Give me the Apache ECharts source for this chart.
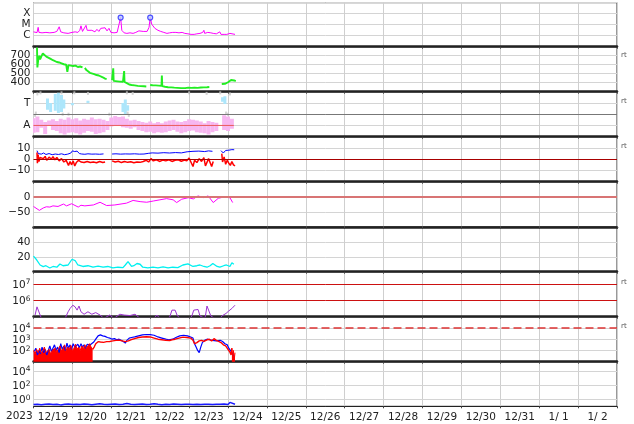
<!DOCTYPE html>
<html><head><meta charset="utf-8">
<script src="https://cdn.jsdelivr.net/npm/echarts@6/dist/echarts.min.js"></script>
<style>html,body{margin:0;padding:0;background:#fff}#c{width:634px;height:424px}</style>
</head><body><div id="c"></div>
<script>
// ---------- labels ----------
const dayLabels = ['12/19','12/20','12/21','12/22','12/23','12/24','12/25','12/26','12/27','12/28','12/29','12/30','12/31','1/ 1','1/ 2'];
const yearLabel = '2023';
const xrayClassLabels = {'-4':'X','-5':'M','-6':'C'};
const sideLabel = 'rt';

// ---------- panel 1: X-ray flux (log10 W/m2), day offsets ----------
const xray = [[0,-5.65],[0.04,-5.74],[0.09,-5.72],[0.12,-5.24],[0.14,-5.70],[0.22,-5.74],[0.32,-5.70],[0.42,-5.74],[0.53,-5.70],[0.6,-5.61],[0.66,-5.19],[0.7,-5.65],[0.78,-5.74],[0.89,-5.79],[0.99,-5.70],[1.07,-5.65],[1.14,-5.70],[1.19,-5.51],[1.22,-5.10],[1.26,-5.61],[1.35,-5.06],[1.38,-5.51],[1.43,-5.61],[1.5,-5.51],[1.58,-5.65],[1.63,-5.42],[1.68,-5.61],[1.73,-5.33],[1.78,-5.51],[1.84,-5.28],[1.89,-5.56],[1.94,-5.33],[1.99,-5.70],[2.07,-5.74],[2.15,-5.70],[2.2,-5.61],[2.24,-4.35],[2.27,-5.51],[2.33,-5.74],[2.4,-5.79],[2.48,-5.74],[2.56,-5.79],[2.63,-5.70],[2.71,-5.56],[2.76,-5.70],[2.82,-5.61],[2.87,-5.51],[2.92,-5.61],[2.97,-5.24],[3.00,-4.35],[3.04,-4.96],[3.12,-5.33],[3.2,-5.51],[3.27,-5.61],[3.35,-5.70],[3.43,-5.79],[3.5,-5.74],[3.58,-5.70],[3.66,-5.70],[3.74,-5.74],[3.82,-5.70],[3.89,-5.79],[3.97,-5.83],[4.05,-5.88],[4.13,-5.88],[4.2,-5.83],[4.28,-5.79],[4.35,-5.70],[4.38,-5.51],[4.4,-5.79],[4.48,-5.70],[4.52,-5.60],[4.56,-5.74],[4.62,-5.79],[4.66,-5.65],[4.7,-5.83],[4.75,-5.88],[4.79,-5.65],[4.82,-5.88],[4.9,-5.88],[4.97,-5.88],[5.05,-5.79],[5.1,-5.88],[5.18,-5.88]];
const flares = [[2.24,-4.35],[3.0,-4.35]];

// ---------- panel 2: solar wind speed (km/s) ----------
const speed = [[0.09,790],[0.10,570],[0.12,650],[0.15,700],[0.17,660],[0.2,690],[0.24,725],[0.28,705],[0.33,690],[0.38,680],[0.44,665],[0.5,650],[0.55,640],[0.6,630],[0.66,625],[0.72,615],[0.78,605],[0.84,600],[0.87,520],[0.9,595],[0.96,590],[1.02,585],[1.08,590],[1.14,575],[1.2,580],[1.26,570],[1.28,null],[1.32,565],[1.36,540],[1.4,525],[1.45,510],[1.5,500],[1.56,495],[1.62,485],[1.68,480],[1.73,470],[1.78,460],[1.84,445],[1.88,440],[1.93,null],[2.02,430],[2.05,560],[2.06,420],[2.1,415],[2.16,415],[2.22,412],[2.3,410],[2.33,530],[2.34,408],[2.4,395],[2.46,380],[2.52,375],[2.6,370],[2.68,365],[2.76,362],[2.84,360],[2.9,358],[2.95,null],[3.0,375],[3.06,372],[3.14,370],[3.22,368],[3.29,365],[3.3,480],[3.31,362],[3.38,355],[3.46,350],[3.54,348],[3.62,345],[3.7,343],[3.8,340],[3.9,340],[3.98,345],[4.06,342],[4.14,345],[4.22,343],[4.3,346],[4.38,348],[4.46,350],[4.52,352],[4.65,null],[4.84,385],[4.88,392],[4.92,388],[4.96,400],[5.0,405],[5.04,415],[5.08,430],[5.12,420],[5.16,425],[5.2,418]];

// ---------- panel 3: T / A bands [day, low, high] ----------
const aBand = [[0.0,0.35,1.65],[0.1,0.4,1.8],[0.2,0.8,1.5],[0.3,0.25,1.3],[0.4,1.0,1.45],[0.5,0.6,1.55],[0.6,0.5,1.4],[0.7,0.3,1.6],[0.8,0.2,1.5],[0.9,0.35,1.7],[1.0,0.4,1.55],[1.1,0.3,1.65],[1.2,0.2,1.45],[1.3,0.35,1.6],[1.4,0.5,1.5],[1.5,0.45,1.7],[1.6,0.25,1.55],[1.7,0.3,1.6],[1.8,0.4,1.5],[1.9,0.6,1.4],[2.0,0.9,1.7],[2.1,1.0,1.85],[2.2,0.95,1.75],[2.3,0.85,1.8],[2.4,0.8,1.6],[2.5,0.7,1.45],[2.6,0.85,1.5],[2.7,0.6,1.4],[2.8,0.5,1.3],[2.9,0.4,1.25],[3.0,0.45,1.35],[3.1,0.3,1.2],[3.2,0.4,1.3],[3.3,0.35,1.2],[3.4,0.4,1.35],[3.5,0.5,1.45],[3.6,0.6,1.5],[3.7,0.45,1.35],[3.8,0.3,1.3],[3.9,0.4,1.4],[4.0,0.5,1.55],[4.1,0.55,1.5],[4.2,0.4,1.45],[4.3,0.35,1.35],[4.4,0.3,1.2],[4.5,0.2,1.4],[4.6,0.4,1.3],[4.7,0.5,1.25],[4.9,0.6,1.9],[5.0,0.5,1.8],[5.1,0.7,1.6]];
const tBand = [[0.36,2.4,3.4],[0.44,2.2,3.0],[0.56,2.3,3.8],[0.64,2.1,3.9],[0.72,2.2,3.7],[0.78,2.5,3.3],[1.0,2.8,3.0],[1.4,3.0,3.2],[2.3,2.2,3.0],[2.36,2.0,3.3],[2.42,2.3,2.8],[4.86,3.1,3.5],[4.92,2.9,3.6]];
const grayDots = [[0.04,1.9],[0.06,2.1],[0.1,3.8],[0.18,3.9],[0.72,3.9],[0.75,2.0],[0.9,2.0],[1.05,3.9],[1.4,3.85],[1.95,2.0],[2.4,3.9],[2.42,2.1],[2.45,1.9],[2.55,3.85],[4.0,3.9],[4.45,3.85],[4.8,3.9],[4.95,2.1],[5.0,2.0],[5.05,3.8]];
const aLevel = [[0,1],[5.15,1]];

// ---------- panel 4: IMF Bt (blue) and Bz (red), nT ----------
const bt = [[0.09,7.6],[0.12,5.0],[0.16,6.5],[0.2,4.5],[0.26,5.5],[0.32,4.2],[0.4,5.0],[0.48,4.0],[0.56,4.6],[0.64,4.2],[0.72,4.8],[0.8,4.0],[0.88,4.5],[0.96,5.5],[1.0,7.4],[1.06,6.8],[1.12,7.2],[1.18,5.0],[1.24,4.6],[1.32,4.4],[1.4,4.8],[1.5,4.5],[1.6,4.6],[1.7,4.4],[1.8,4.7],[1.9,null],[2.02,4.6],[2.12,4.8],[2.24,4.5],[2.36,4.7],[2.48,4.6],[2.6,4.8],[2.72,4.5],[2.84,4.6],[2.95,5.2],[3.05,5.6],[3.2,5.4],[3.35,5.8],[3.5,5.5],[3.65,5.9],[3.8,5.6],[3.95,6.6],[4.1,7.0],[4.25,7.2],[4.4,6.8],[4.5,7.4],[4.6,7.0],[4.7,null],[4.82,7.6],[4.88,5.5],[4.94,7.8],[5.02,8.0],[5.1,8.5],[5.16,8.4]];
const bz = [[0.09,6.0],[0.1,-3.5],[0.12,4.0],[0.14,-2.0],[0.17,1.5],[0.2,3.0],[0.25,0.5],[0.3,2.5],[0.34,-1.0],[0.4,1.8],[0.46,0.0],[0.5,2.2],[0.55,-0.5],[0.6,1.5],[0.66,-1.5],[0.72,0.5],[0.78,-2.5],[0.84,-1.0],[0.9,-5.5],[0.94,-2.0],[0.98,-5.0],[1.02,-1.5],[1.06,-6.0],[1.1,-3.0],[1.16,-1.0],[1.22,-2.5],[1.3,-3.0],[1.38,-2.0],[1.46,-3.0],[1.54,-2.5],[1.62,-3.2],[1.7,-2.0],[1.78,-3.0],[1.84,-2.5],[1.9,null],[2.02,-1.5],[2.1,-2.5],[2.18,-1.8],[2.26,-3.0],[2.34,-2.0],[2.42,-2.8],[2.5,-2.2],[2.58,-3.2],[2.66,-2.5],[2.74,-2.8],[2.82,-2.0],[2.9,-1.0],[2.96,-2.5],[3.02,0.5],[3.08,-1.5],[3.16,-0.5],[3.24,-2.0],[3.32,-0.8],[3.4,-1.5],[3.48,-0.5],[3.56,-2.0],[3.64,-1.0],[3.72,-0.5],[3.8,-1.8],[3.88,-0.8],[3.94,-1.5],[4.0,1.0],[4.04,-2.0],[4.1,-6.5],[4.14,-1.0],[4.2,-3.0],[4.26,0.5],[4.32,-2.0],[4.38,1.5],[4.42,-6.0],[4.46,-5.5],[4.5,0.5],[4.54,-1.0],[4.58,-6.5],[4.62,-2.0],[4.7,null],[4.84,5.0],[4.86,-2.5],[4.9,2.0],[4.94,-4.5],[4.98,-1.0],[5.02,-3.5],[5.06,-5.5],[5.1,-2.0],[5.14,-5.0],[5.18,-6.0]];

// ---------- panel 5: Dst-like index (nT) ----------
const dst = [[0,-32],[0.15,-45],[0.25,-37],[0.33,-33],[0.42,-34],[0.5,-30],[0.63,-32],[0.77,-24],[0.85,-30],[0.98,-23],[1.15,-34],[1.22,-28],[1.32,-30],[1.54,-27],[1.71,-18],[1.88,-29],[2.09,-27],[2.39,-21],[2.56,-12],[2.74,-16],[2.91,-18],[3.08,-14],[3.25,-10],[3.42,-6],[3.59,-10],[3.68,-19],[3.81,-8],[3.98,-3],[4.11,-7],[4.23,3],[4.36,-3],[4.49,3],[4.62,-19],[4.75,-5],[4.88,-1],[5.05,-3],[5.12,-19]];

// ---------- panel 6: density (p/cm3) ----------
const density = [[0,21],[0.08,16],[0.17,9],[0.25,6.8],[0.32,8],[0.42,5],[0.5,7],[0.6,6],[0.68,10.4],[0.76,8],[0.81,6.8],[0.89,9],[0.99,16.7],[1.07,15],[1.14,9],[1.27,7],[1.4,8],[1.53,6],[1.66,7.5],[1.79,6],[1.91,7],[2.04,5],[2.17,6],[2.3,5.5],[2.36,9],[2.43,13.5],[2.52,7],[2.58,8],[2.66,11],[2.74,10],[2.81,6],[2.94,5],[3.07,6],[3.2,5],[3.33,6.5],[3.46,5],[3.58,6],[3.71,5.5],[3.84,9],[3.97,10.4],[4.1,7],[4.2,8],[4.28,9],[4.38,7],[4.46,6],[4.54,8],[4.61,11],[4.72,7],[4.79,6],[4.89,8],[4.96,9],[5.05,7],[5.1,12],[5.15,10]];

// ---------- panel 7: electron flux (log10) ----------
const electrons = [[0.04,5.1],[0.09,5.6],[0.17,5.1],[0.22,4.8],[0.8,4.8],[0.84,5.04],[0.89,5.3],[0.94,5.5],[1.01,5.7],[1.07,5.6],[1.12,5.4],[1.17,5.65],[1.22,5.3],[1.3,5.15],[1.4,5.3],[1.5,5.15],[1.6,5.25],[1.71,5.1],[1.81,4.9],[1.96,5.1],[2.07,4.9],[2.22,5.15],[2.33,5.1],[2.48,5.07],[2.61,5.15],[2.74,4.9],[3.1,4.9],[3.17,5.1],[3.25,4.9],[3.48,4.9],[3.51,5.04],[3.56,5.4],[3.64,5.4],[3.69,5.1],[3.76,4.9],[4.02,4.9],[4.07,5.04],[4.12,5.4],[4.23,5.44],[4.28,5.04],[4.41,4.9],[4.44,5.0],[4.46,5.65],[4.5,5.7],[4.56,5.04],[4.66,4.9],[4.8,4.9],[4.84,5.04],[4.95,5.2],[5.02,5.35],[5.1,5.5],[5.18,5.7]];

// ---------- panel 8: proton flux (log10) ----------
const protonRedArea = [[0.00,2.0],[0.04,1.7],[0.08,2.1],[0.12,1.8],[0.16,2.2],[0.20,1.75],[0.24,1.95],[0.28,2.3],[0.32,1.8],[0.36,1.9],[0.40,2.1],[0.44,1.7],[0.48,2.0],[0.52,1.85],[0.56,2.2],[0.60,1.9],[0.64,2.1],[0.68,2.4],[0.72,1.95],[0.76,2.15],[0.80,2.5],[0.84,2.0],[0.88,2.3],[0.92,2.1],[0.96,2.45],[1.00,2.0],[1.04,2.2],[1.08,2.55],[1.12,2.1],[1.16,2.3],[1.20,2.0],[1.24,2.4],[1.28,2.15],[1.32,2.5],[1.36,2.2],[1.40,2.35],[1.44,2.6],[1.48,2.3],[1.52,2.1],[1.53,null],[5.1,2.2],[5.12,1.4],[5.14,2.0],[5.16,1.2],[5.18,1.8]];
const protonRed = [[1.52,2.1],[1.56,2.3],[1.6,2.6],[1.66,2.78],[1.72,2.75],[1.8,2.72],[1.88,2.78],[1.96,2.8],[2.04,2.85],[2.12,2.9],[2.2,2.92],[2.28,2.85],[2.36,2.78],[2.4,2.95],[2.44,2.85],[2.5,2.95],[2.6,3.05],[2.7,3.15],[2.8,3.2],[2.9,3.22],[3.0,3.2],[3.1,3.1],[3.2,3.0],[3.3,2.95],[3.4,2.9],[3.5,2.88],[3.56,2.95],[3.64,3.0],[3.74,3.1],[3.84,3.18],[3.94,3.15],[4.04,3.1],[4.1,2.9],[4.14,2.6],[4.2,2.7],[4.26,2.85],[4.32,2.9],[4.38,2.8],[4.46,2.95],[4.52,3.0],[4.58,2.85],[4.64,3.05],[4.7,2.9],[4.76,2.8],[4.82,2.7],[4.88,2.5],[4.94,2.4],[5.0,2.1],[5.04,1.9],[5.08,1.6],[5.1,2.2]];
const protonBlue = [[0.02,1.9],[0.06,2.2],[0.10,1.6],[0.14,2.0],[0.18,1.7],[0.22,2.3],[0.26,1.8],[0.30,2.1],[0.34,1.6],[0.38,2.0],[0.42,2.4],[0.46,1.9],[0.50,2.2],[0.54,2.5],[0.58,2.0],[0.62,2.3],[0.66,1.8],[0.70,2.6],[0.74,2.1],[0.78,2.4],[0.82,2.0],[0.86,2.65],[0.90,2.2],[0.94,2.5],[0.98,2.1],[1.02,2.6],[1.06,2.3],[1.10,2.2],[1.14,2.55],[1.18,2.25],[1.22,2.6],[1.26,2.3],[1.30,2.5],[1.34,2.2],[1.38,2.55],[1.42,2.4],[1.46,2.5],[1.50,2.6],[1.55,2.75],[1.6,3.0],[1.66,3.3],[1.72,3.38],[1.78,3.3],[1.84,3.25],[1.9,3.15],[1.96,3.1],[2.02,3.0],[2.08,3.05],[2.14,2.95],[2.2,3.0],[2.28,2.85],[2.36,2.65],[2.4,2.9],[2.46,3.1],[2.52,3.15],[2.6,3.2],[2.7,3.3],[2.8,3.38],[2.9,3.42],[3.0,3.4],[3.1,3.35],[3.2,3.2],[3.3,3.1],[3.4,3.0],[3.48,2.95],[3.52,2.8],[3.58,3.0],[3.66,3.15],[3.76,3.3],[3.86,3.35],[3.96,3.3],[4.04,3.2],[4.1,3.1],[4.14,2.6],[4.18,2.3],[4.22,2.0],[4.26,1.8],[4.3,2.3],[4.34,2.7],[4.4,2.9],[4.46,3.0],[4.52,2.95],[4.6,2.9],[4.7,2.85],[4.8,2.9],[4.86,2.8],[4.92,2.6],[4.98,2.5],[5.02,2.2],[5.06,2.3],[5.1,1.8],[5.14,1.5]];

// ---------- panel 9: flux (log10) ----------
const lowFlux = [[0,-0.75],[0.1,-0.7],[0.2,-0.78],[0.3,-0.72],[0.4,-0.68],[0.5,-0.75],[0.6,-0.7],[0.7,-0.8],[0.8,-0.72],[0.9,-0.66],[1.0,-0.74],[1.1,-0.7],[1.2,-0.76],[1.3,-0.68],[1.4,-0.72],[1.5,-0.78],[1.6,-0.7],[1.7,-0.65],[1.8,-0.72],[1.9,-0.76],[2.0,-0.7],[2.1,-0.66],[2.2,-0.74],[2.3,-0.7],[2.4,-0.62],[2.5,-0.72],[2.6,-0.76],[2.7,-0.7],[2.8,-0.68],[2.9,-0.74],[3.0,-0.72],[3.1,-0.64],[3.2,-0.72],[3.3,-0.78],[3.4,-0.7],[3.5,-0.74],[3.6,-0.68],[3.7,-0.72],[3.8,-0.76],[3.9,-0.7],[4.0,-0.72],[4.1,-0.74],[4.2,-0.7],[4.3,-0.76],[4.4,-0.72],[4.5,-0.7],[4.6,-0.74],[4.7,-0.72],[4.8,-0.7],[4.9,-0.68],[5.0,-0.74],[5.05,-0.45],[5.1,-0.7],[5.18,-0.72]];

// ---------- build ----------
const FONT = 'DejaVu Sans';
const TXT = '#222';
const pts = a => a.map(p => p[1] === null ? [p[0], '-'] : p);
const tops = [2.7, 46.7, 91.7, 136.7, 181.7, 227.0, 271.7, 316.7, 361.7];
const heights = [44, 45, 45, 45, 45.3, 44.7, 45, 45, 44.6];

const grids = tops.map((t, i) => ({left: 33.5, right: 17, top: t, height: heights[i], show: true, borderColor: '#333', borderWidth: 1, containLabel: false}));
const xAxes = tops.map((t, i) => ({
  type: 'value', gridIndex: i, min: 0, max: 15, interval: 1,
  axisLabel: {show: false},
  axisLine: {show: true, onZero: false, lineStyle: {color: '#222', width: i < 8 ? 2.5 : 1}},
  axisTick: {show: true, length: 2, lineStyle: {color: '#444'}},
  splitLine: {show: true, lineStyle: {color: '#cfcfcf', width: 1}}
}));
xAxes.push({type: 'category', gridIndex: 8, position: 'bottom', data: dayLabels, boundaryGap: true,
  axisLine: {show: false}, axisTick: {show: false}, splitLine: {show: false},
  axisLabel: {show: true, interval: 0, fontSize: 10.5, fontFamily: FONT, color: TXT, margin: 5}});

const sup = {b: {fontSize: 10.5, fontFamily: FONT, color: TXT, lineHeight: 13}, s: {fontSize: 7.5, fontFamily: FONT, color: TXT, verticalAlign: 'top', lineHeight: 8}};
const lbl = (fmt, extra) => Object.assign({show: true, fontSize: 10.5, fontFamily: FONT, color: TXT, margin: 3, padding: [3, 0, 0, 0], formatter: fmt}, extra || {});
const pow = keep => v => keep.includes(v) ? '{b|10}{s|' + v + '}' : '';
const split = show => ({show: show, lineStyle: {color: '#d4d4d4', width: 1}});
const mkY = (i, min, max, interval, fmt, showSplit, extra) => ({type: 'value', gridIndex: i, min, max, interval,
  axisLine: {show: false}, axisTick: {show: false}, axisLabel: lbl(fmt, extra), splitLine: split(showSplit)});

const yAxes = [
  mkY(0, -7, -3, 1, v => xrayClassLabels[String(v)] || '', true),
  mkY(1, 300, 800, 100, v => (v >= 400 && v <= 700) ? String(v) : '', true),
  mkY(2, 0, 4, 1, v => v === 3 ? 'T' : (v === 1 ? 'A' : ''), true),
  mkY(3, -20, 20, 10, v => v === 10 ? '10' : (v === 0 ? '0' : (v === -10 ? '\u221210' : '')), true),
  mkY(4, -100, 50, 50, v => v === 0 ? '0' : (v === -50 ? '\u221250' : ''), true),
  mkY(5, 0, 60, 20, v => (v === 20 || v === 40) ? String(v) : '', true),
  mkY(6, 5, 7.74, 1, pow([6, 7]), false, {rich: sup, padding: [2, 0, 0, 0]}),
  mkY(7, 1, 5, 1, pow([2, 3, 4]), true, {rich: sup, padding: [2, 0, 0, 0]}),
  mkY(8, -1, 5.3, 1, pow([0, 2, 4]), false, {rich: sup, padding: [2, 0, 0, 0]})
];

const line = (i, data, color, width, extra) => Object.assign({type: 'line', xAxisIndex: i, yAxisIndex: i, data: pts(data),
  showSymbol: false, symbol: 'none', connectNulls: false, clip: true, lineStyle: {color, width}, itemStyle: {color}, z: 3}, extra || {});
const hline = (items) => ({silent: true, symbol: 'none', label: {show: false}, animation: false,
  data: items.map(it => ({yAxis: it.y, lineStyle: Object.assign({type: 'solid'}, it.style)}))});
const band = (i, data, color, w) => ({type: 'custom', xAxisIndex: i, yAxisIndex: i, data: data, clip: true, z: 2,
  encode: {x: 0, y: [1, 2]},
  renderItem: (params, api) => {
    const a = api.coord([api.value(0), api.value(2)]);
    const b = api.coord([api.value(0), api.value(1)]);
    return {type: 'rect', shape: {x: a[0] - w / 2, y: a[1], width: w, height: b[1] - a[1]}, style: {fill: color}};
  }});

const series = [
  line(0, xray, '#ff00ff', 1),
  {type: 'scatter', xAxisIndex: 0, yAxisIndex: 0, data: flares, symbol: 'circle', symbolSize: 5, z: 5,
   itemStyle: {color: '#b8d0ff', borderColor: '#2a2aff', borderWidth: 1.2}},
  line(1, speed, '#22ee22', 1.9),
  band(2, aBand, '#f7b6f0', 4),
  band(2, tBand, '#ade6fb', 3),
  {type: 'scatter', xAxisIndex: 2, yAxisIndex: 2, data: grayDots, symbol: 'rect', symbolSize: [2, 3], z: 2, itemStyle: {color: '#c8c8c8'}},
  line(2, aLevel, '#ea5c5c', 1, {markLine: hline([{y: 2, style: {color: '#777', width: 1}}])}),
  line(3, bt, '#0000ff', 1, {markLine: hline([{y: 0, style: {color: '#a80000', width: 1.2}}])}),
  line(3, bz, '#ff0000', 1.5),
  line(4, dst, '#ff00ff', 1, {markLine: hline([{y: 0, style: {color: '#d87474', width: 2.2}}])}),
  line(5, density, '#00f0f0', 1.3),
  line(6, electrons, '#9c33d0', 1, {markLine: hline([{y: 6, style: {color: '#cc1111', width: 1}}, {y: 7, style: {color: '#cc1111', width: 1}}])}),
  line(7, protonBlue, '#0000ff', 1.2, {markLine: hline([{y: 4, style: {color: '#dd3333', width: 1.5, type: [8, 4]}}])}),
  line(7, protonRedArea, '#ff0000', 1, {areaStyle: {color: '#ff0000', opacity: 1, origin: 'start'}}),
  line(7, protonRed, '#ff0000', 1.4),
  line(8, lowFlux, '#1a1aff', 1.5, {markLine: hline([{y: 0, style: {color: '#d4d4d4', width: 1}}, {y: 2, style: {color: '#d4d4d4', width: 1}}, {y: 4, style: {color: '#d4d4d4', width: 1}}])})
];

const sideYs = [56, 102, 147, 283, 327];
const graphic = [{type: 'text', left: 6, top: 411, style: {text: yearLabel, font: '10.5px "DejaVu Sans"', fill: TXT}}]
  .concat(sideYs.map(y => ({type: 'text', left: 621, top: y - 4, style: {text: sideLabel, font: '7px "DejaVu Sans"', fill: '#555'}})));

const chart = echarts.init(document.getElementById('c'), null, {renderer: 'canvas'});
chart.setOption({animation: false, backgroundColor: '#fff', grid: grids, xAxis: xAxes, yAxis: yAxes, series: series, graphic: graphic});
</script></body></html>
